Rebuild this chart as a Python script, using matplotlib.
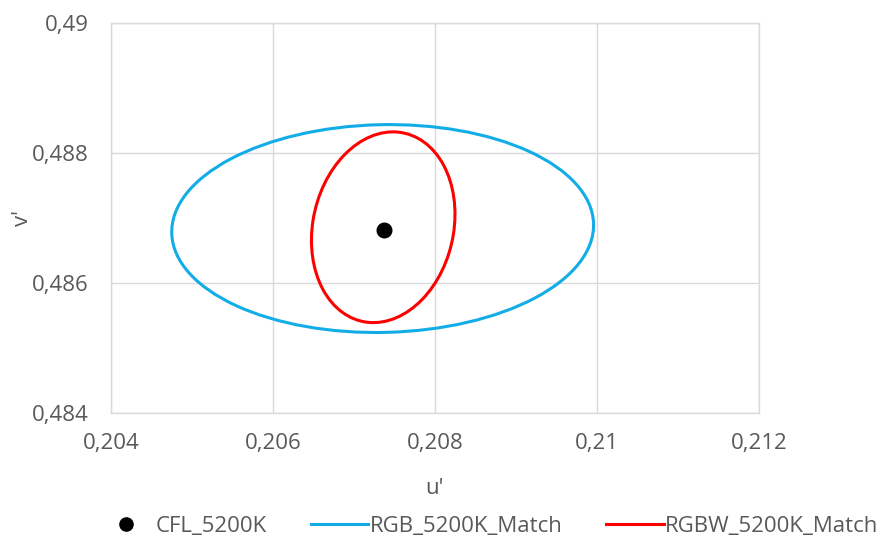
import numpy as np
import matplotlib
matplotlib.use('Agg')
import matplotlib.pyplot as plt
from matplotlib.patches import Ellipse
from matplotlib.lines import Line2D
from matplotlib.ticker import FuncFormatter

plt.rcParams['font.family'] = ['Open Sans', 'DejaVu Sans']

# reference point (u', v')
cfl_u = [0.20737]
cfl_v = [0.48682]

# ellipses: center u, center v, semi-major, semi-minor, angle (deg)
names = ['RGB_5200K_Match', 'RGBW_5200K_Match']
center_u = [0.207354, 0.207361]
center_v = [0.486838, 0.486858]
semi_major = [0.0026048, 0.0014727]
semi_minor = [0.0015955, 0.000873]
angle_deg = [1.83, 82.67]
colors = ['#12ADE6', '#FF0000']

xticks = [0.204, 0.206, 0.208, 0.210, 0.212]
yticks = [0.484, 0.486, 0.488, 0.490]

text_c = '#595959'
grid_c = '#D9D9D9'
fs = 16

fig = plt.figure(figsize=(8.85, 5.38), dpi=100)
ax = fig.add_axes([0.1254, 0.2318, 0.7322, 0.726])

for i in range(len(names)):
    e = Ellipse((center_u[i], center_v[i]), 2*semi_major[i], 2*semi_minor[i],
                angle=angle_deg[i], fill=False, edgecolor=colors[i], lw=2.2, zorder=3)
    ax.add_patch(e)

ax.plot(cfl_u, cfl_v, 'o', color='black', markersize=10.5, zorder=4)

ax.set_xlim(0.204, 0.212)
ax.set_ylim(0.484, 0.490)
ax.set_xticks(xticks)
ax.set_yticks(yticks)

def comma_fmt(v, pos):
    s = ('%.3f' % v).rstrip('0').rstrip('.')
    return s.replace('.', ',')

ax.xaxis.set_major_formatter(FuncFormatter(comma_fmt))
ax.yaxis.set_major_formatter(FuncFormatter(comma_fmt))

ax.grid(True, color=grid_c, lw=1.0)
ax.set_axisbelow(True)
for s in ax.spines.values():
    s.set_color(grid_c)
    s.set_linewidth(1.0)

ax.tick_params(axis='x', length=0, pad=14, labelsize=fs, labelcolor=text_c)
ax.tick_params(axis='y', length=0, pad=16, labelsize=fs, labelcolor=text_c)

ax.set_xlabel("u'", fontsize=fs, color=text_c)
ax.set_ylabel("v'", fontsize=fs, color=text_c)
ax.xaxis.label.set_va('center')
ax.yaxis.label.set_va('center')
ax.xaxis.set_label_coords(0.5, -0.192)
ax.yaxis.set_label_coords(-0.137, 0.5)

handles = [Line2D([], [], marker='o', color='black', ls='none', markersize=9.5),
           Line2D([], [], color=colors[0], lw=2.2),
           Line2D([], [], color=colors[1], lw=2.2)]
labels = ['CFL_5200K'] + names
leg = fig.legend(handles, labels, loc='center', bbox_to_anchor=(0.551, 0.022),
                 ncol=3, frameon=False, fontsize=fs, handlelength=2.6,
                 handletextpad=0.05, columnspacing=1.95, borderpad=0, borderaxespad=0)
for t in leg.get_texts():
    t.set_color(text_c)

fig.savefig('out.png', dpi=100)
